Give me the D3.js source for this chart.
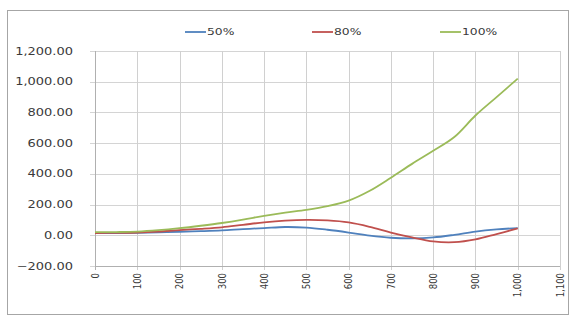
<!DOCTYPE html>
<html><head><meta charset="utf-8">
<script src="https://cdn.jsdelivr.net/npm/d3@7"></script>
<style>
html,body{margin:0;padding:0;background:#fff;}
text{font-family:"DejaVu Sans",Verdana,sans-serif;fill:#3a3a3a;}
</style></head>
<body><svg id="c" width="586" height="335"></svg>
<script>
const xValues = [0,50,100,150,200,250,300,350,400,450,500,550,600,650,700,750,800,850,900,950,1000];
const s50  = [15,15,16,19,23,27,32,40,47,54,50,36,18,-2,-16,-20,-14,3,24,38,47];
const s80  = [15,16,18,24,34,42,52,68,84,95,100,97,84,55,18,-14,-40,-45,-27,8,45];
const s100 = [20,21,24,33,46,62,80,102,127,148,166,190,226,290,375,465,550,640,780,900,1020];
const seriesNames = ["50%","80%","100%"];
const seriesColors = ["#4f81bd","#c0504d","#9bbb59"];
const yTicks = [-200,0,200,400,600,800,1000,1200];
const xTicks = [0,100,200,300,400,500,600,700,800,900,1000,1100];

const svg = d3.select("#c");
const SX = 1.3;
const x = d3.scaleLinear().domain([0,1100]).range([95,560]);
const y = d3.scaleLinear().domain([-200,1200]).range([266,51]);
const fmtY = d3.format(",.2f");
const fmtX = d3.format(",");

svg.append("rect").attr("x",7.5).attr("y",10.5).attr("width",561).attr("height",304)
  .attr("fill","#fff").attr("stroke","#a6a6a6");

// horizontal gridlines
svg.append("g").selectAll("line").data(yTicks).join("line")
  .attr("x1",90).attr("x2",560).attr("y1",d=>Math.round(y(d))+0.5).attr("y2",d=>Math.round(y(d))+0.5)
  .attr("stroke","#d4d4d4").attr("stroke-width",1);
// vertical gridlines
svg.append("g").selectAll("line").data(xTicks).join("line")
  .attr("x1",d=>Math.round(x(d))+0.5).attr("x2",d=>Math.round(x(d))+0.5)
  .attr("y1",51).attr("y2",270)
  .attr("stroke",d=>d===0?"#b0b0b0":"#d0d0d0").attr("stroke-width",1);
// bottom axis line
svg.append("line").attr("x1",95).attr("x2",560).attr("y1",Math.round(y(-200))+0.5).attr("y2",Math.round(y(-200))+0.5)
  .attr("stroke","#b0b0b0");

// y labels
svg.append("g").selectAll("text").data(yTicks).join("text")
  .attr("transform",d=>`translate(73,${y(d)}) scale(${SX},1)`)
  .attr("text-anchor","end").attr("dy","0.35em").attr("font-size",10)
  .text(d=>fmtY(d));
// x labels
svg.append("g").selectAll("text").data(xTicks).join("text")
  .attr("transform",d=>`translate(${x(d)},273) scale(1.25,1) rotate(-90)`)
  .attr("text-anchor","end").attr("dy","0.35em").attr("font-size",8.5)
  .text(d=>fmtX(d));

// lines
const all = [s50,s80,s100];
const line = d3.line().x((d,i)=>x(xValues[i])).y(d=>y(d)).curve(d3.curveCatmullRom.alpha(0.5));
svg.append("g").selectAll("path").data(all).join("path")
  .attr("d",d=>line(d)).attr("fill","none")
  .attr("stroke",(d,i)=>seriesColors[i]).attr("stroke-width",1.8);

// legend
const legX = [185,312,440];
const lg = svg.append("g").selectAll("g").data(seriesNames).join("g")
  .attr("transform",(d,i)=>`translate(${legX[i]},32)`);
lg.append("line").attr("x1",0).attr("x2",21).attr("y1",0).attr("y2",0)
  .attr("stroke",(d,i)=>seriesColors[i]).attr("stroke-width",1.8);
lg.append("text").attr("transform",`translate(22,0) scale(${SX},1)`).attr("dy","0.35em")
  .attr("font-size",9.5).text(d=>d);
</script></body></html>
